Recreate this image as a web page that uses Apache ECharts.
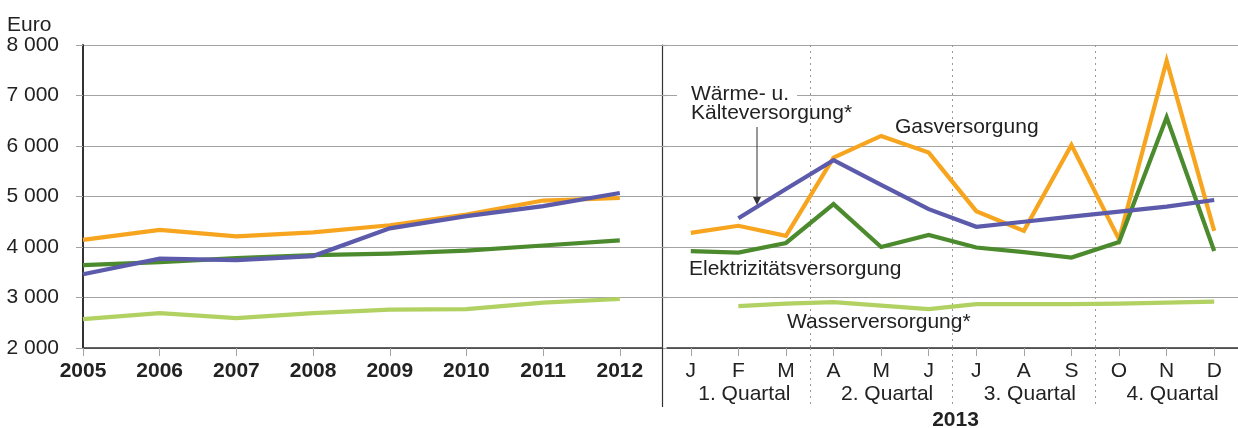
<!DOCTYPE html>
<html>
<head>
<meta charset="utf-8">
<script src="https://cdn.jsdelivr.net/npm/echarts@6/dist/echarts.min.js"></script>
<style>
html,body{margin:0;padding:0;background:#fff;}
#c{width:1238px;height:428px;}
</style>
</head>
<body>
<div id="c"></div>
<script>
// ---- data ----
const years = [2005, 2006, 2007, 2008, 2009, 2010, 2011, 2012];
const gasYears      = [4140, 4340, 4210, 4290, 4430, 4640, 4920, 4970];
const waermeYears   = [3460, 3770, 3740, 3820, 4370, 4610, 4810, 5070];
const elekYears     = [3640, 3700, 3780, 3840, 3870, 3930, 4030, 4130];
const wasserYears   = [2570, 2690, 2590, 2690, 2760, 2770, 2900, 2970];

const months = ['J', 'F', 'M', 'A', 'M', 'J', 'J', 'A', 'S', 'O', 'N', 'D'];
const quarterLabels = ['', '1. Quartal', '', '', '2. Quartal', '', '', '3. Quartal', '', '', '4. Quartal', ''];
const gas2013    = [4280, 4420, 4220, 5770, 6200, 5870, 4710, 4320, 6020, 4150, 7690, 4320];
const waerme2013 = [null, 4570, 5150, 5720, 5230, 4750, 4400, 4500, 4600, 4700, 4800, 4930];
const elek2013   = [3920, 3890, 4080, 4850, 4000, 4240, 3990, 3900, 3790, 4100, 6570, 3920];
const wasser2013 = [null, 2830, 2880, 2910, 2840, 2770, 2870, 2870, 2870, 2880, 2900, 2920];

const yMin = 2000, yMax = 8000, yStep = 1000;
const quarterBreaks = [3, 6, 9];

// ---- styles ----
const FONT = 'Liberation Sans, Arial, Helvetica, sans-serif';
const C_GAS = '#F7A51E', C_WAERME = '#5C5AAA', C_ELEK = '#4C8A2E', C_WASSER = '#B2D163';
const GRID_C = '#a3a3a3', AXIS_C = '#333333', TXT = '#222222';
const LW = 4.2;

function pairs(xs, ys) { return xs.map((x, i) => [x, ys[i]]); }
function fmtY(v) { return String(v).replace(/\B(?=(\d{3})+(?!\d))/g, ' '); }

const chart = echarts.init(document.getElementById('c'), null, {renderer: 'canvas'});

function lineSeries(name, color, xi, yi, data) {
  return {
    name, type: 'line', xAxisIndex: xi, yAxisIndex: yi, data,
    showSymbol: false, symbol: 'none', connectNulls: false,
    lineStyle: {color, width: LW, cap: 'butt', join: 'miter'},
    itemStyle: {color}, silent: true, animation: false
  };
}

const option = {
  animation: false,
  backgroundColor: '#fff',
  title: {
    text: 'Euro', left: 2, top: 10,
    textStyle: {fontFamily: FONT, fontSize: 21, fontWeight: 'normal', color: TXT}
  },
  grid: [
    {left: 83, right: 1238 - 662, top: 45, bottom: 428 - 348, containLabel: false, outerBoundsMode: 'none'},
    {left: 667, right: 0, top: 45, bottom: 428 - 348, containLabel: false, outerBoundsMode: 'none'}
  ],
  xAxis: [
    { // yearly axis
      gridIndex: 0, type: 'value', min: 2005, max: 2012.55, interval: 1,
      axisLine: {show: true, lineStyle: {color: AXIS_C, width: 1.5}},
      axisTick: {show: true, length: 8, lineStyle: {color: GRID_C, width: 1}},
      axisLabel: {
        margin: 13, fontFamily: FONT, fontSize: 21, fontWeight: 'bold', color: TXT,
        showMinLabel: true, showMaxLabel: true,
        formatter: v => Number.isInteger(v) ? String(v) : ''
      },
      splitLine: {show: false}
    },
    { // divider extension below axis
      gridIndex: 0, type: 'category', data: ['', ''], boundaryGap: false, position: 'bottom',
      axisLine: {show: false},
      axisTick: {show: true, length: 59, interval: i => i === 1, lineStyle: {color: AXIS_C, width: 1.2}},
      axisLabel: {show: false}, splitLine: {show: false}
    },
    { // months
      gridIndex: 1, type: 'category', data: months, boundaryGap: true, position: 'bottom',
      axisLine: {show: true, lineStyle: {color: AXIS_C, width: 1.5}},
      axisTick: {show: true, alignWithLabel: true, length: 8, interval: 0, lineStyle: {color: GRID_C, width: 1}},
      axisLabel: {interval: 0, margin: 13, fontFamily: FONT, fontSize: 21, color: TXT},
      splitLine: {show: true, interval: i => quarterBreaks.includes(i), lineStyle: {color: '#9a9a9a', width: 1, type: [2, 4]}}
    },
    { // quarters
      gridIndex: 1, type: 'category', data: quarterLabels, boundaryGap: true, position: 'bottom',
      axisLine: {show: false},
      axisTick: {show: true, length: 59, interval: i => quarterBreaks.includes(i), lineStyle: {color: '#9a9a9a', width: 1, type: [2, 4]}},
      axisLabel: {interval: 0, margin: 36, padding: [0, 0, 0, 12], fontFamily: FONT, fontSize: 21, color: TXT},
      splitLine: {show: false},
      name: '2013', nameLocation: 'middle', nameGap: 60,
      nameTextStyle: {fontFamily: FONT, fontSize: 21, fontWeight: 'bold', color: TXT, padding: [0, 0, 0, 6]}
    }
  ],
  yAxis: [
    {
      gridIndex: 0, type: 'value', min: yMin, max: yMax, interval: yStep,
      axisLine: {show: true, lineStyle: {color: AXIS_C, width: 2}},
      axisTick: {show: true, length: 7, lineStyle: {color: GRID_C, width: 1}},
      axisLabel: {margin: 24, fontFamily: FONT, fontSize: 21, color: TXT, formatter: fmtY},
      splitLine: {show: true, lineStyle: {color: GRID_C, width: 1.2}}
    },
    { // divider between the panels
      gridIndex: 0, type: 'value', position: 'right', min: yMin, max: yMax, interval: yStep,
      axisLine: {show: true, lineStyle: {color: AXIS_C, width: 1.2}},
      axisTick: {show: false}, axisLabel: {show: false}, splitLine: {show: false}
    },
    {
      gridIndex: 1, type: 'value', min: yMin, max: yMax, interval: yStep,
      axisLine: {show: false},
      axisTick: {show: true, length: 5, lineStyle: {color: GRID_C, width: 1.2}},
      axisLabel: {show: false},
      splitLine: {show: true, lineStyle: {color: GRID_C, width: 1.2}}
    }
  ],
  series: [
    lineSeries('Wasserversorgung*', C_WASSER, 0, 0, pairs(years, wasserYears)),
    lineSeries('Gasversorgung', C_GAS, 0, 0, pairs(years, gasYears)),
    lineSeries('Elektrizitätsversorgung', C_ELEK, 0, 0, pairs(years, elekYears)),
    lineSeries('Wärme- u. Kälteversorgung*', C_WAERME, 0, 0, pairs(years, waermeYears)),
    lineSeries('Wasserversorgung* 2013', C_WASSER, 2, 2, wasser2013),
    lineSeries('Gasversorgung 2013', C_GAS, 2, 2, gas2013),
    lineSeries('Elektrizitätsversorgung 2013', C_ELEK, 2, 2, elek2013),
    lineSeries('Wärme- u. Kälteversorgung* 2013', C_WAERME, 2, 2, waerme2013)
  ],
  graphic: [
    {type: 'text', z: 100, style: {text: 'Wärme- u.', x: 677, y: 94, verticalAlign: 'middle',
      font: '21px ' + FONT, fill: TXT, backgroundColor: '#fff', padding: [0, 8, 0, 14]}},
    {type: 'text', z: 100, style: {text: 'Kälteversorgung*', x: 691, y: 113, verticalAlign: 'middle',
      font: '21px ' + FONT, fill: TXT}},
    {type: 'text', z: 100, style: {text: 'Gasversorgung', x: 895, y: 127, verticalAlign: 'middle',
      font: '21px ' + FONT, fill: TXT}},
    {type: 'text', z: 100, style: {text: 'Elektrizitätsversorgung', x: 689, y: 269, verticalAlign: 'middle',
      font: '21px ' + FONT, fill: TXT}},
    {type: 'text', z: 100, style: {text: 'Wasserversorgung*', x: 787, y: 322, verticalAlign: 'middle',
      font: '21px ' + FONT, fill: TXT}},
    {type: 'line', z: 100, shape: {x1: 757, y1: 127, x2: 757, y2: 198}, style: {stroke: AXIS_C, lineWidth: 1}},
    {type: 'polygon', z: 100, shape: {points: [[753, 197], [761, 197], [757, 205]]}, style: {fill: AXIS_C}}
  ]
};
chart.setOption(option);
</script>
</body>
</html>
